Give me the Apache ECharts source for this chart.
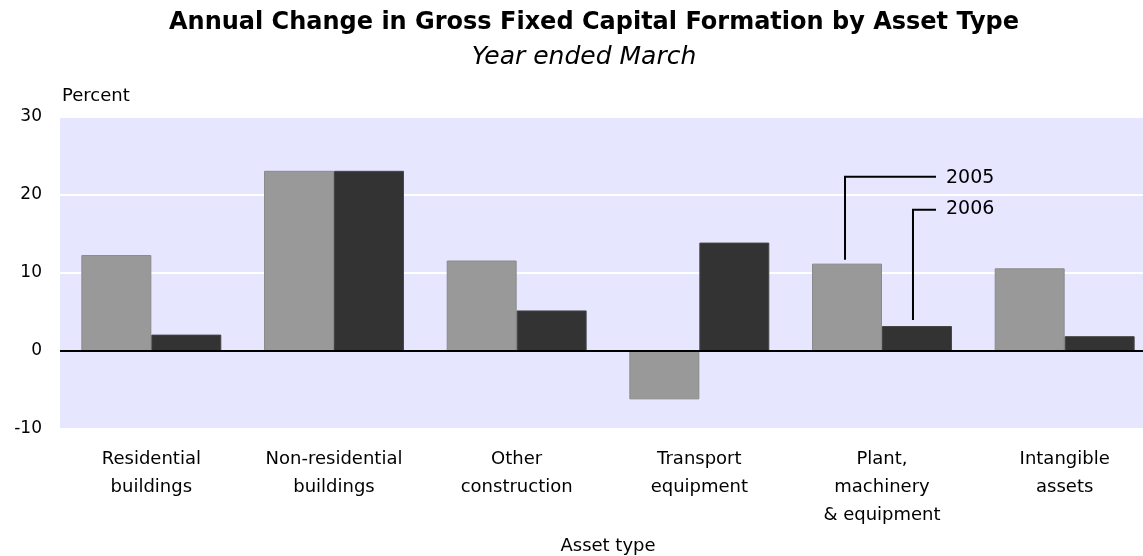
<!DOCTYPE html>
<html>
<head>
<meta charset="utf-8">
<script src="https://cdn.jsdelivr.net/npm/echarts@6/dist/echarts.min.js"></script>
<style>html,body{margin:0;padding:0;background:#fff;overflow:hidden;}#c{width:1143px;height:556px;}</style>
</head>
<body>
<div id="c"></div>
<script>
const categories = ['Residential\nbuildings', 'Non-residential\nbuildings', 'Other\nconstruction', 'Transport\nequipment', 'Plant,\nmachinery\n& equipment', 'Intangible\nassets'];
const values2005 = [12.3, 23.1, 11.6, -6.2, 11.2, 10.6];
const values2006 = [2.1, 23.1, 5.2, 13.9, 3.2, 1.9];
const seriesNames = ['2005', '2006'];
const yTicks = { min: -10, max: 30, interval: 10 };
const titleText = 'Annual Change in Gross Fixed Capital Formation by Asset Type';
const subtitleText = 'Year ended March';
const yAxisTitle = 'Percent';
const xAxisTitle = 'Asset type';

const chart = echarts.init(document.getElementById('c'), null, { renderer: 'canvas' });
const labelFont = '"DejaVu Sans", sans-serif';

const option = {
  animation: false,
  backgroundColor: '#ffffff',
  grid: { left: 60, width: 1096, top: 117, bottom: 127, show: true, backgroundColor: '#E6E6FF', borderWidth: 0, outerBoundsMode: 'none', containLabel: false },
  xAxis: {
    type: 'category',
    data: categories,
    axisLine: { show: false, onZero: false },
    axisTick: { show: false },
    splitLine: { show: false },
    axisLabel: { color: '#000', fontFamily: labelFont, fontSize: 18, lineHeight: 28, margin: 16, interval: 0 },
    name: xAxisTitle,
    nameLocation: 'middle',
    nameGap: 108,
    nameTextStyle: { color: '#000', fontFamily: labelFont, fontSize: 18 }
  },
  yAxis: {
    type: 'value',
    min: yTicks.min, max: yTicks.max, interval: yTicks.interval,
    axisLine: { show: false },
    axisTick: { show: false },
    axisLabel: { color: '#000', fontFamily: labelFont, fontSize: 17, margin: 18 },
    splitLine: { show: true, lineStyle: { color: '#ffffff', width: 2 } }
  },
  series: [
    {
      name: seriesNames[0], type: 'bar', data: values2005,
      barGap: '0%', barCategoryGap: '23.4%',
      itemStyle: { color: '#999999', borderColor: '#8a8a8a', borderWidth: 1 },
      markLine: {
        silent: true, symbol: 'none', label: { show: false },
        lineStyle: { color: '#000', width: 2, type: 'solid' },
        data: [{ yAxis: 0 }]
      },
      z: 2
    },
    {
      name: seriesNames[1], type: 'bar', data: values2006,
      itemStyle: { color: '#333333', borderColor: '#444444', borderWidth: 1 },
      z: 2
    }
  ]
};
chart.setOption(option);

function buildGraphics() {
  const g = [];
  g.push({ type: 'text', style: { text: titleText, x: 594, y: 23, textAlign: 'center', textVerticalAlign: 'middle', font: 'bold 24px "DejaVu Sans", sans-serif', fill: '#000' } });
  g.push({ type: 'text', style: { text: subtitleText, x: 584, y: 57, textAlign: 'center', textVerticalAlign: 'middle', font: 'italic 25px "DejaVu Sans", sans-serif', fill: '#000' } });
  g.push({ type: 'text', style: { text: yAxisTitle, x: 62, y: 96, textAlign: 'left', textVerticalAlign: 'middle', font: '18px "DejaVu Sans", sans-serif', fill: '#000' } });

  // leader lines for series labels, anchored at the Plant category bars
  const idx = 4;
  const c0 = chart.convertToPixel({ gridIndex: 0 }, [idx, values2005[idx]]);
  const c1 = chart.convertToPixel({ gridIndex: 0 }, [idx, values2006[idx]]);
  const catW = chart.convertToPixel({ gridIndex: 0 }, [1, 0])[0] - chart.convertToPixel({ gridIndex: 0 }, [0, 0])[0];
  const barW = catW * (1 - 0.234) / 2;
  const x05 = c0[0] - barW / 2 - 2;
  const x06 = c1[0] + barW / 2 - 4;
  const yl05 = chart.convertToPixel({ gridIndex: 0 }, [idx, 22.35])[1];
  const yl06 = chart.convertToPixel({ gridIndex: 0 }, [idx, 18.1])[1];
  const xEnd = 936;
  g.push({ type: 'polyline', shape: { points: [[x05, c0[1] - 4], [x05, yl05], [xEnd, yl05]] }, style: { stroke: '#000', lineWidth: 2, fill: null }, z: 10 });
  g.push({ type: 'polyline', shape: { points: [[x06, c1[1] - 6], [x06, yl06], [xEnd, yl06]] }, style: { stroke: '#000', lineWidth: 2, fill: null }, z: 10 });
  g.push({ type: 'text', style: { text: seriesNames[0], x: xEnd + 10, y: yl05 + 1, textAlign: 'left', textVerticalAlign: 'middle', font: '19px "DejaVu Sans", sans-serif', fill: '#000' }, z: 10 });
  g.push({ type: 'text', style: { text: seriesNames[1], x: xEnd + 10, y: yl06 - 1, textAlign: 'left', textVerticalAlign: 'middle', font: '19px "DejaVu Sans", sans-serif', fill: '#000' }, z: 10 });
  return g;
}
chart.setOption({ graphic: buildGraphics() });
</script>
</body>
</html>
